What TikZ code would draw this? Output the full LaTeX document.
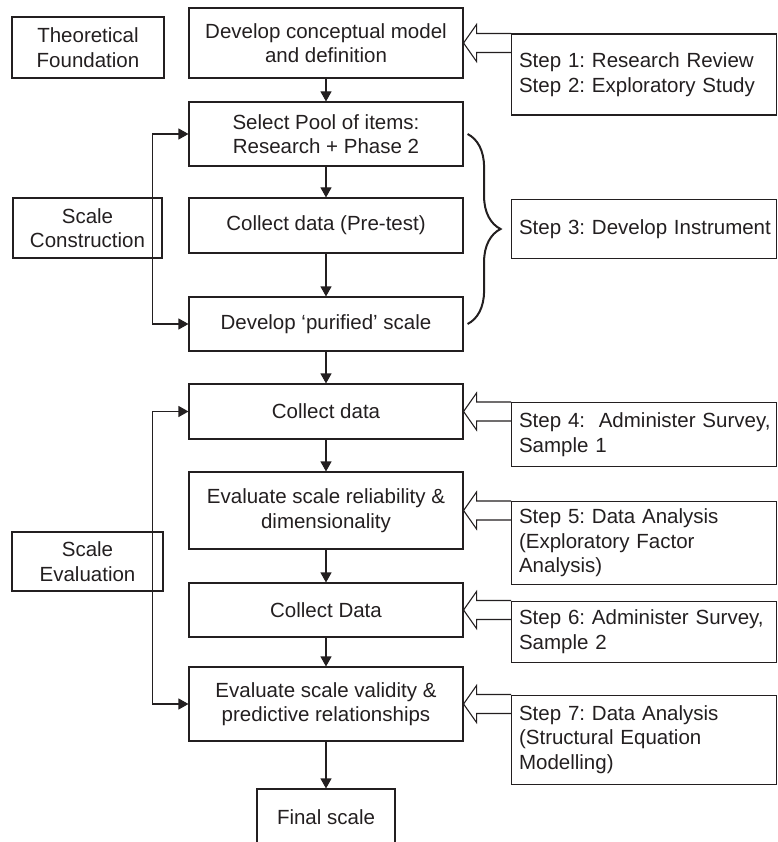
\documentclass[tikz,border=0pt]{standalone}
\usepackage{fontspec}
\setmainfont{Liberation Sans}
\usetikzlibrary {arrows.meta,calc,decorations.pathreplacing}
\definecolor{ink}{HTML}{231F20}
\frenchspacing
\hyphenpenalty=10000
\exhyphenpenalty=10000
\hbadness=10000
\hfuzz=20pt

\begin{document}
\begin{tikzpicture}[x=1pt,y=-1pt,line width=1.1pt,draw=ink,
  every node/.style={font=\fontsize{20.5}{24.5}\selectfont,text=ink},
  stage/.style={draw=ink,minimum width=274pt,align=center,inner sep=2pt},
  phase/.style={draw=ink,align=center,inner sep=2pt},
  stepbox/.style={draw=ink,anchor=north west,text width=250pt,inner xsep=7.5pt,align=left},
  flow/.style={draw=ink,-{Triangle[length=10pt,width=11pt]}},
  loop/.style={draw=ink,{Triangle[length=10pt,width=11pt]}-{Triangle[length=10pt,width=11pt]}},
  hollow/.style={draw=ink,line join=miter},
  bracket/.style={draw=ink,line width=2pt,decorate,decoration={brace,amplitude=33pt}}]
  \path[use as bounding box,clip] (0,0) rectangle (777,842);
  % Left-hand side part of the Figure
  \node[phase,minimum width=152pt,minimum height=61pt] (theo) at (88,47.5) {Theoretical\\Foundation};
  \node[phase,minimum width=149pt,minimum height=60pt] (cons) at (87.5,228) {Scale\\Construction};
  \node[phase,minimum width=151pt,minimum height=59pt] (eval) at (87.5,561.5) {Scale\\Evaluation};
  % Middle column
  \node[stage,minimum height=70pt] (dev)  at (326,43)    {Develop conceptual model\\and definition};
  \node[stage,minimum height=64pt] (pool) at (326,134)   {Select Pool of items:\\Research + Phase 2};
  \node[stage,minimum height=55pt] (pre)  at (326,225.5) {Collect data (Pre-test)};
  \node[stage,minimum height=54pt] (pur)  at (326,324)   {Develop `purified' scale};
  \node[stage,minimum height=55pt] (col1) at (326,411.5) {Collect data};
  \node[stage,minimum height=77pt] (rel)  at (326,510.5) {Evaluate scale reliability \&\\dimensionality};
  \node[stage,minimum height=54pt] (col2) at (326,610)   {Collect Data};
  \node[stage,minimum height=74pt] (val)  at (326,704)   {Evaluate scale validity \&\\predictive relationships};
  \node[stage,minimum width=138pt,minimum height=56pt] (fin) at (326,817) {Final scale};
  % Right-hand side, the steps
  \node[stepbox,minimum height=81pt] (s12) at (511,33.5)  {Step 1: Research Review\\Step 2: Exploratory Study};
  \node[stepbox,minimum height=59pt] (s3)  at (511,199)   {\mbox{Step 3: Develop Instrument}};
  \node[stepbox,minimum height=64pt] (s4)  at (511,402)   {\mbox{Step 4:\ \ Administer Survey,}\\Sample 1};
  \node[stepbox,minimum height=83pt] (s5)  at (511,501)   {Step 5: Data Analysis\\(Exploratory Factor\\Analysis)};
  \node[stepbox,minimum height=61pt] (s6)  at (511,600.5) {\mbox{Step 6: Administer Survey,}\\Sample 2};
  \node[stepbox,minimum height=89pt] (s7)  at (511,694.5) {Step 7: Data Analysis\\(Structural Equation\\Modelling)};
  % arrows down the middle
  \foreach \a/\b in {dev/pool,pool/pre,pre/pur,pur/col1,col1/rel,rel/col2,col2/val,val/fin}
    \draw[flow] (\a) -- (\b);
  % loops on the left
  \draw[loop] (pool.west) -- ++(-36,0) |- (pur.west);
  \draw[loop] (col1.west) -- ++(-36,0) |- (val.west);
  % hollow arrows from the steps
  \foreach \src/\dst in {s12/dev,s4/col1,s5/rel,s6/col2,s7/val}
    \draw[hollow] ($(\dst.east -| \src.west)+(0,-9.5)$) -- ($(\dst.east)+(13,-9.5)$)
      -- ($(\dst.east)+(13,-18.5)$) -- (\dst.east) -- ($(\dst.east)+(13,18.5)$)
      -- ($(\dst.east)+(13,9.5)$) -- ($(\dst.east -| \src.west)+(0,9.5)$);
  % brace towards step 3
  \draw[bracket] ([xshift=4pt]pool.east) -- ([xshift=4pt]pur.east);
\end{tikzpicture}
\end{document}
